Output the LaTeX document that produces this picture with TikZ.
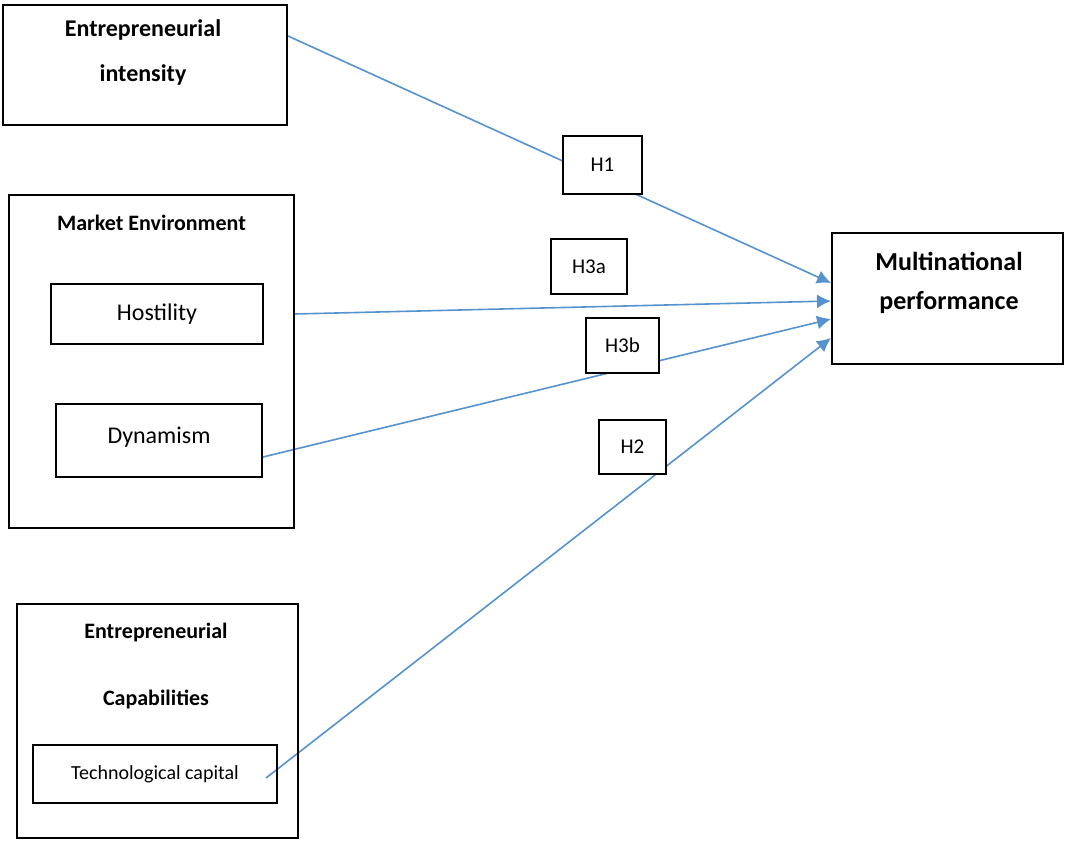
\documentclass[tikz,border=0pt]{standalone}
\usepackage{fontspec}
\setmainfont{Carlito}
\usetikzlibrary{arrows.meta,backgrounds}
\definecolor{linkblue}{RGB}{86,146,205}

\begin{document}
\begin{tikzpicture}[x=0.5pt,y=-0.5pt,
		frame/.style={draw,line width=1pt,inner sep=0pt},
		hbox/.style={frame,fill=white,font=\fontsize{10.5}{12}\selectfont},
		link/.style={draw=linkblue,line width=0.8pt,-{Latex[length=7pt,width=7pt]}}]
			\useasboundingbox (0,0) rectangle (1067,851);
			\node[frame,minimum width=142pt,minimum height=60pt] (ei) at (145,65) {};
			\node[align=center,font=\bfseries\fontsize{12}{22.5}\selectfont] (eitext) at (143,52.5) {Entrepreneurial\\intensity};
			\node[frame,minimum width=142.5pt,minimum height=166.5pt] (me) at (151.5,361.5) {};
			\node[font=\bfseries\fontsize{11}{13}\selectfont] (metext) at (151.5,223) {Market Environment};
			\node[frame,minimum width=106pt,minimum height=30pt,font=\fontsize{12}{14}\selectfont] (host) at (157,314) {Hostility};
			\node[frame,minimum width=103pt,minimum height=36.5pt,font=\fontsize{12}{14}\selectfont,text depth=5pt] (dyn) at (159,440.5) {Dynamism};
			\node[frame,minimum width=140.5pt,minimum height=117pt] (ec) at (157.5,721) {};
			\node[align=center,font=\bfseries\fontsize{11}{33.5}\selectfont] (ectext) at (156,666.5) {Entrepreneurial\\Capabilities};
			\node[frame,minimum width=122pt,minimum height=29pt,font=\fontsize{10}{12}\selectfont] (tc) at (155,774) {Technological capital};
			\node[frame,minimum width=115.5pt,minimum height=65.5pt] (mp) at (947.5,298.5) {};
			\node[align=center,font=\bfseries\fontsize{13}{19.5}\selectfont] (mptext) at (949,282.5) {Multinational\\performance};
			\node[hbox,minimum width=39.5pt,minimum height=29pt] (h1) at (602.5,165) {H1};
			\node[hbox,minimum width=38pt,minimum height=27.5pt] (h3a) at (589,266.5) {H3a};
			\node[hbox,minimum width=36.5pt,minimum height=27.5pt] (h3b) at (622.5,345.5) {H3b};
			\node[hbox,minimum width=33.5pt,minimum height=27pt] (h2) at (632.5,447) {H2};
			\begin{scope}[on background layer]
				\draw[link] ([yshift=14.5pt]ei.east) -- ([yshift=7.75pt]mp.west);
				\draw[link] (host.east -| me.east) -- ([yshift=-1.25pt]mp.west);
				\draw[link] ([yshift=-8.25pt]dyn.east) -- ([yshift=-10.25pt]mp.west);
				\draw[link] ([xshift=-6pt,yshift=-2pt]tc.east) -- ([yshift=-19.75pt]mp.west);
			\end{scope}
		\end{tikzpicture}
\end{document}
